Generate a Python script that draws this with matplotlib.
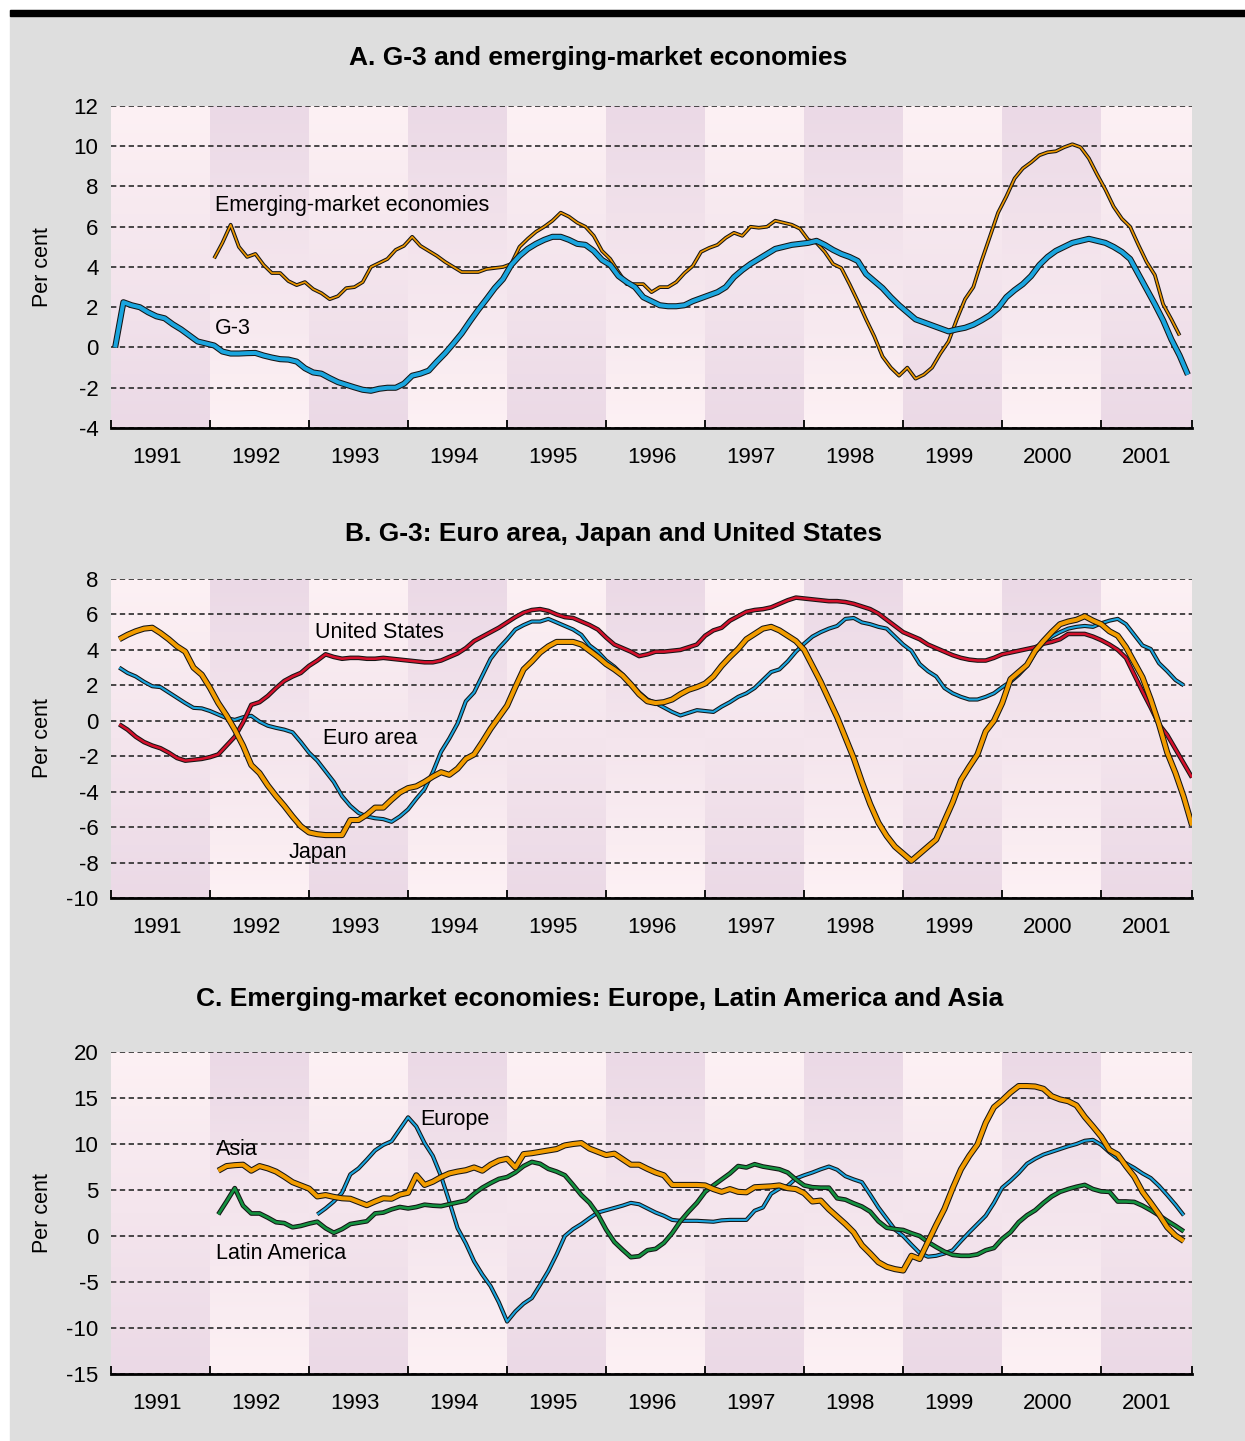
import numpy as np
import matplotlib
matplotlib.use('Agg')
import matplotlib.pyplot as plt
import matplotlib.patheffects as pe
from matplotlib.patches import Rectangle

# Monthly series, Jan 1991 = month 0 (per cent)
g3_start = 0
g3 = [0.0, 2.25, 2.1, 2.0, 1.75, 1.55, 1.45, 1.15, 0.9, 0.6, 0.3, 0.2,
      0.1, -0.2, -0.3, -0.3, -0.28, -0.27, -0.4, -0.5, -0.58, -0.6, -0.7, -1.03,
      -1.24, -1.3, -1.52, -1.72, -1.85, -1.98, -2.1, -2.15, -2.05, -2.0, -2.0, -1.8,
      -1.4, -1.3, -1.15, -0.7, -0.28, 0.2, 0.7, 1.3, 1.87, 2.4, 2.95, 3.4,
      4.1, 4.55, 4.9, 5.15, 5.35, 5.5, 5.5, 5.35, 5.15, 5.1, 4.8, 4.35,
      4.1, 3.55, 3.25, 3.0, 2.5, 2.3, 2.1, 2.05, 2.05, 2.1, 2.3, 2.45,
      2.6, 2.75, 3.0, 3.5, 3.85, 4.15, 4.4, 4.65, 4.9, 5.0, 5.1, 5.15,
      5.2, 5.3, 5.1, 4.85, 4.65, 4.5, 4.3, 3.65, 3.3, 2.95, 2.5, 2.1,
      1.75, 1.4, 1.25, 1.1, 0.95, 0.8, 0.9, 0.98, 1.13, 1.35, 1.6, 1.95,
      2.5, 2.85, 3.15, 3.55, 4.1, 4.5, 4.8, 5.0, 5.2, 5.3, 5.4, 5.3,
      5.2, 5.0, 4.75, 4.4, 3.65, 2.9, 2.15, 1.35, 0.4, -0.4, -1.35]

eme_start = 12
eme = [4.43, 5.2, 6.1, 5.0, 4.5, 4.65, 4.1, 3.7, 3.7, 3.3, 3.1, 3.25,
       2.9, 2.7, 2.4, 2.55, 2.95, 3.0, 3.25, 4.0, 4.2, 4.4, 4.85, 5.05,
       5.5, 5.05, 4.8, 4.55, 4.25, 4.0, 3.75, 3.75, 3.75, 3.9, 3.95, 4.0,
       4.15, 5.0, 5.4, 5.75, 6.0, 6.3, 6.7, 6.5, 6.2, 6.0, 5.55, 4.8,
       4.4, 3.75, 3.15, 3.15, 3.15, 2.75, 3.0, 3.0, 3.25, 3.7, 4.05, 4.75,
       4.95, 5.1, 5.45, 5.7, 5.55, 6.0, 5.95, 6.0, 6.3, 6.2, 6.1, 5.9,
       5.35, 5.2, 4.75, 4.15, 3.95, 3.15, 2.3, 1.4, 0.55, -0.45, -1.0, -1.4,
       -1.0, -1.55, -1.35, -1.0, -0.3, 0.3, 1.4, 2.4, 3.0, 4.3, 5.5, 6.7,
       7.5, 8.4, 8.9, 9.2, 9.55, 9.7, 9.75, 9.95, 10.1, 9.95, 9.4, 8.6,
       7.85, 7.0, 6.4, 6.0, 5.1, 4.25, 3.6, 2.15, 1.4, 0.6]

us_start = 0
us = [-0.2, -0.5, -0.9, -1.2, -1.4, -1.55, -1.8, -2.1, -2.25, -2.2, -2.15, -2.05,
      -1.9, -1.4, -0.9, -0.1, 0.9, 1.05, 1.4, 1.85, 2.25, 2.5, 2.7, 3.1,
      3.4, 3.75, 3.6, 3.5, 3.55, 3.55, 3.5, 3.5, 3.55, 3.5, 3.45, 3.4,
      3.35, 3.3, 3.3, 3.4, 3.6, 3.8, 4.1, 4.5, 4.75, 5.0, 5.25, 5.55,
      5.85, 6.1, 6.25, 6.3, 6.2, 6.0, 5.85, 5.8, 5.6, 5.4, 5.15, 4.7,
      4.3, 4.1, 3.9, 3.65, 3.75, 3.9, 3.9, 3.95, 4.0, 4.15, 4.3, 4.8,
      5.1, 5.25, 5.65, 5.9, 6.15, 6.25, 6.3, 6.4, 6.6, 6.8, 6.95, 6.9,
      6.85, 6.8, 6.75, 6.75, 6.7, 6.6, 6.45, 6.3, 6.05, 5.7, 5.35, 5.0,
      4.8, 4.6, 4.3, 4.1, 3.9, 3.7, 3.55, 3.45, 3.4, 3.4, 3.55, 3.75,
      3.85, 3.95, 4.05, 4.15, 4.35, 4.45, 4.6, 4.9, 4.9, 4.9, 4.75, 4.55,
      4.3, 4.0, 3.55, 2.6, 1.65, 0.75, -0.2, -0.8, -1.6, -2.4, -3.2]

euro_start = 0
euro = [3.0, 2.7, 2.5, 2.2, 1.95, 1.9, 1.6, 1.3, 1.0, 0.73, 0.7, 0.55,
        0.35, 0.15, 0.05, 0.2, 0.28, -0.05, -0.28, -0.4, -0.5, -0.65, -1.2, -1.8,
        -2.25, -2.85, -3.45, -4.25, -4.8, -5.2, -5.4, -5.5, -5.55, -5.7, -5.4, -5.0,
        -4.4, -3.85, -2.9, -1.75, -1.0, -0.15, 1.1, 1.6, 2.55, 3.5, 4.1, 4.6,
        5.15, 5.4, 5.6, 5.6, 5.75, 5.55, 5.35, 5.15, 4.85, 4.25, 3.9, 3.4,
        3.05, 2.6, 2.1, 1.6, 1.2, 1.0, 0.75, 0.5, 0.3, 0.45, 0.6, 0.55,
        0.5, 0.8, 1.05, 1.35, 1.55, 1.85, 2.3, 2.75, 2.9, 3.35, 3.9, 4.35,
        4.75, 5.0, 5.2, 5.35, 5.75, 5.8, 5.55, 5.45, 5.3, 5.2, 4.75, 4.3,
        3.95, 3.2, 2.8, 2.5, 1.85, 1.55, 1.35, 1.2, 1.2, 1.35, 1.55, 1.9,
        2.2, 2.6, 3.1, 3.85, 4.4, 4.75, 5.0, 5.2, 5.3, 5.35, 5.3, 5.5,
        5.65, 5.75, 5.45, 4.85, 4.25, 4.05, 3.25, 2.8, 2.3, 2.0]

japan_start = 0
japan = [4.6, 4.85, 5.05, 5.2, 5.25, 4.95, 4.6, 4.2, 3.9, 3.0, 2.6, 1.85,
         1.0, 0.3, -0.5, -1.4, -2.5, -2.95, -3.65, -4.25, -4.8, -5.4, -5.95, -6.3,
         -6.4, -6.45, -6.45, -6.45, -5.6, -5.6, -5.3, -4.9, -4.9, -4.45, -4.05, -3.8,
         -3.7, -3.45, -3.15, -2.9, -3.05, -2.7, -2.15, -1.9, -1.2, -0.45, 0.2, 0.85,
         1.9, 2.9, 3.35, 3.85, 4.2, 4.45, 4.45, 4.45, 4.3, 3.95, 3.6, 3.2,
         2.9, 2.55, 2.05, 1.5, 1.1, 1.0, 1.05, 1.2, 1.5, 1.75, 1.9, 2.1,
         2.5, 3.1, 3.6, 4.05, 4.6, 4.9, 5.2, 5.3, 5.1, 4.8, 4.5, 4.0,
         3.1, 2.2, 1.2, 0.2, -0.95, -2.1, -3.45, -4.7, -5.75, -6.5, -7.1, -7.5,
         -7.9, -7.5, -7.1, -6.7, -5.65, -4.6, -3.35, -2.6, -1.9, -0.6, 0.0, 1.0,
         2.35, 2.75, 3.15, 3.95, 4.5, 5.0, 5.45, 5.6, 5.7, 5.9, 5.65, 5.45,
         5.05, 4.8, 4.15, 3.3, 2.45, 1.2, -0.2, -1.8, -2.95, -4.3, -5.9]

asia_start = 12
asia = [7.1, 7.6, 7.7, 7.75, 7.1, 7.6, 7.35, 7.0, 6.45, 5.85, 5.5, 5.15,
        4.3, 4.45, 4.25, 4.1, 4.05, 3.7, 3.35, 3.75, 4.1, 4.05, 4.5, 4.7,
        6.6, 5.55, 5.9, 6.4, 6.8, 7.0, 7.15, 7.45, 7.1, 7.75, 8.2, 8.4,
        7.45, 8.9, 9.0, 9.15, 9.3, 9.45, 9.85, 10.0, 10.1, 9.5, 9.15, 8.8,
        8.95, 8.35, 7.75, 7.75, 7.3, 6.9, 6.6, 5.55, 5.55, 5.55, 5.55, 5.5,
        5.1, 4.8, 5.1, 4.8, 4.75, 5.3, 5.35, 5.4, 5.5, 5.2, 5.1, 4.65,
        3.75, 3.85, 2.9, 2.1, 1.3, 0.4, -1.0, -1.9, -2.85, -3.35, -3.6, -3.75,
        -2.15, -2.5, -0.65, 1.2, 2.95, 5.2, 7.25, 8.7, 9.95, 12.3, 14.0, 14.75,
        15.6, 16.3, 16.3, 16.25, 16.0, 15.2, 14.85, 14.65, 14.2, 12.95, 11.9, 10.8,
        9.35, 8.85, 7.6, 6.45, 4.8, 3.6, 2.35, 0.95, 0.05, -0.55]

europe_start = 24
europe = [2.35, 3.0, 3.75, 4.7, 6.7, 7.35, 8.3, 9.3, 9.9, 10.3, 11.6, 12.9,
          11.9, 10.1, 8.7, 6.5, 3.75, 0.85, -0.8, -2.75, -4.2, -5.45, -7.2, -9.3,
          -8.2, -7.35, -6.75, -5.3, -3.8, -2.0, 0.0, 0.75, 1.3, 1.95, 2.55, 2.8,
          3.05, 3.3, 3.6, 3.45, 3.0, 2.55, 2.2, 1.75, 1.65, 1.65, 1.65, 1.6,
          1.55, 1.7, 1.75, 1.75, 1.75, 2.75, 3.1, 4.6, 5.15, 5.45, 6.25, 6.6,
          6.9, 7.25, 7.55, 7.2, 6.5, 6.15, 5.85, 4.5, 3.1, 1.9, 0.7, 0.0,
          -0.95, -1.85, -2.25, -2.15, -1.9, -1.55, -0.55, 0.4, 1.3, 2.2, 3.6, 5.25,
          6.0, 6.85, 7.85, 8.4, 8.85, 9.15, 9.45, 9.75, 10.0, 10.35, 10.45, 9.9,
          9.1, 8.4, 7.9, 7.4, 6.8, 6.3, 5.45, 4.45, 3.4, 2.25]

latam_start = 12
latam = [2.35, 3.75, 5.2, 3.3, 2.45, 2.45, 2.0, 1.5, 1.4, 0.95, 1.1, 1.35,
         1.55, 0.85, 0.35, 0.75, 1.3, 1.45, 1.6, 2.45, 2.55, 2.9, 3.15, 3.0,
         3.15, 3.4, 3.3, 3.25, 3.45, 3.65, 3.85, 4.6, 5.25, 5.75, 6.2, 6.4,
         6.9, 7.6, 8.05, 7.85, 7.3, 7.0, 6.6, 5.55, 4.45, 3.6, 2.35, 0.7,
         -0.65, -1.5, -2.3, -2.2, -1.55, -1.4, -0.75, 0.3, 1.6, 2.65, 3.6, 4.8,
         5.5, 6.15, 6.8, 7.6, 7.45, 7.8, 7.55, 7.4, 7.25, 6.9, 6.15, 5.5,
         5.3, 5.25, 5.25, 4.1, 3.95, 3.55, 3.2, 2.65, 1.6, 0.9, 0.75, 0.65,
         0.3, 0.0, -0.65, -1.2, -1.7, -2.05, -2.15, -2.15, -2.0, -1.55, -1.3, -0.3,
         0.4, 1.5, 2.25, 2.8, 3.6, 4.3, 4.8, 5.1, 5.35, 5.55, 5.1, 4.85,
         4.8, 3.75, 3.75, 3.7, 3.3, 2.8, 2.25, 1.65, 1.1, 0.5]

years = list(range(1991, 2002))
titles = ['A. G-3 and emerging-market economies',
          'B. G-3: Euro area, Japan and United States',
          'C. Emerging-market economies: Europe, Latin America and Asia']

plt.rcParams['font.family'] = ['Liberation Sans', 'DejaVu Sans']
plt.rcParams['axes.unicode_minus'] = False

W, H = 1245, 1441
BLUE = '#1aa5de'
ORANGE = '#f29c00'
RED = '#d4102c'
GREEN = '#13913f'
LIGHT = np.array([253, 241, 244]) / 255
DARK = np.array([235, 217, 230]) / 255
XEND = 2001 + 11 / 12

fig = plt.figure(figsize=(W / 100, H / 100), dpi=100)
fig.patch.set_facecolor('white')
# grey page and black rule at top (kept below the axes)
fig.patches.append(Rectangle((10 / W, 0), 1 - 10 / W, 1 - 10 / H,
                             transform=fig.transFigure, color='#dedede', zorder=-10))
fig.patches.append(Rectangle((10 / W, 1 - 16 / H), 1 - 10 / W, 6 / H,
                             transform=fig.transFigure, color='black', zorder=-9))


def month_x(start, n, offset):
    m = np.arange(start, start + n)
    return 1991 + (m + offset) / 12.0


def draw_line(ax, x, y, color, lw, z):
    ax.plot(x, y, color=color, lw=lw, zorder=z, solid_joinstyle='round',
            solid_capstyle='butt',
            path_effects=[pe.Stroke(linewidth=lw + 1.5, foreground='#151515'),
                          pe.Normal()])


def make_panel(top_px, bottom_px, ymin, ymax, ystep, title, title_x, title_y):
    ax = fig.add_axes([111 / W, 1 - bottom_px / H, 1081 / W,
                       (bottom_px - top_px) / H])
    ax.set_facecolor('none')

    # alternating yearly bands with opposite vertical gradients
    t = np.linspace(0, 1, 340)[:, None]
    light_top = LIGHT * (1 - t) + DARK * t
    dark_top = DARK * (1 - t) + LIGHT * t
    img = np.zeros((340, len(years), 3))
    for j in range(len(years)):
        img[:, j, :] = light_top if j % 2 == 0 else dark_top
    ax.imshow(img, extent=[1991, 2002, ymin, ymax], aspect='auto',
              interpolation='nearest', zorder=0)

    ax.set_xlim(1991, XEND)
    ax.set_ylim(ymin, ymax)
    ax.set_yticks(np.arange(ymin, ymax + 1, ystep))
    ax.grid(axis='y', color='#2a2a2a', linestyle=(0, (3.2, 2.1)), linewidth=1.2)
    ax.set_axisbelow(True)

    for s in ['left', 'top', 'right']:
        ax.spines[s].set_visible(False)
    ax.spines['bottom'].set_linewidth(2.0)
    ax.spines['bottom'].set_zorder(5)

    ax.set_xticks(years + [XEND])
    ax.tick_params(axis='x', which='major', direction='in', length=6,
                   width=1.3, labelbottom=False)
    ax.set_xticks([y + 0.46 for y in years], minor=True)
    ax.set_xticklabels([str(y) for y in years], minor=True)
    ax.tick_params(axis='x', which='minor', length=0, pad=13.5, labelsize=16)
    ax.tick_params(axis='y', length=0, pad=9, labelsize=16)

    fig.text(title_x / W, 1 - title_y / H, title, ha='center', va='center',
             fontsize=19, fontweight='bold')
    fig.text(42 / W, 1 - (top_px + bottom_px) / 2 / H, 'Per cent', rotation=90,
             ha='center', va='center', fontsize=15.5)
    return ax


# Panel A
axA = make_panel(106, 428, -4, 12, 2, titles[0], 598, 58)
draw_line(axA, month_x(eme_start, len(eme), 0.5), eme, '#ee9800', 1.2, 3)
draw_line(axA, month_x(g3_start, len(g3), 0.5), g3, BLUE, 2.9, 4)
axA.text(1992.05, 7.05, 'Emerging-market economies', fontsize=15.5, va='center')
axA.text(1992.05, 0.95, 'G-3', fontsize=15.5, va='center')

# Panel B
axB = make_panel(579, 898, -10, 8, 2, titles[1], 614, 534)
draw_line(axB, month_x(euro_start, len(euro), 1.0), euro, BLUE, 1.5, 3)
draw_line(axB, month_x(us_start, len(us), 1.0), us, RED, 1.8, 4)
draw_line(axB, month_x(japan_start, len(japan), 1.0), japan, ORANGE, 2.9, 5)
axB.text(1993.06, 5.0, 'United States', fontsize=15.5, va='center')
axB.text(1993.14, -1.0, 'Euro area', fontsize=15.5, va='center')
axB.text(1992.79, -7.42, 'Japan', fontsize=15.5, va='center')

# Panel C
axC = make_panel(1052, 1374, -15, 20, 5, titles[2], 600, 999)
draw_line(axC, month_x(europe_start, len(europe), 1.0), europe, BLUE, 1.5, 3)
draw_line(axC, month_x(latam_start, len(latam), 1.0), latam, GREEN, 1.9, 4)
draw_line(axC, month_x(asia_start, len(asia), 1.0), asia, ORANGE, 2.9, 5)
axC.text(1994.12, 12.7, 'Europe', fontsize=15.5, va='center')
axC.text(1992.06, 9.45, 'Asia', fontsize=15.5, va='center')
axC.text(1992.06, -1.87, 'Latin America', fontsize=15.5, va='center')

fig.savefig('out.png', dpi=100)
